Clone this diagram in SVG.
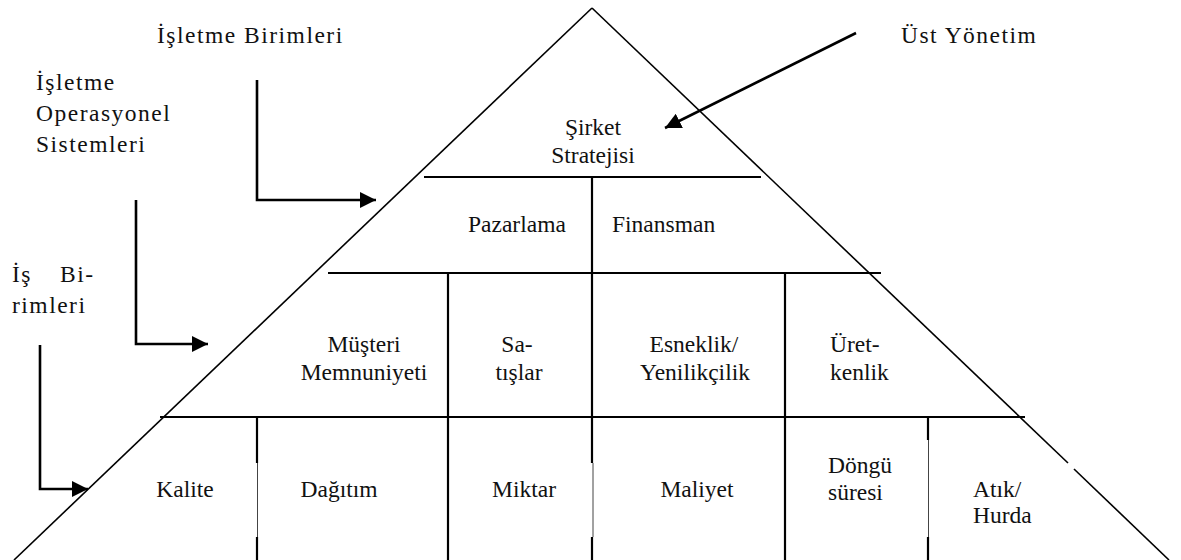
<svg xmlns="http://www.w3.org/2000/svg" width="1181" height="560" viewBox="0 0 1181 560" font-family="'Liberation Serif', 'DejaVu Serif', serif">
  <style>
    text { font-family: 'Liberation Serif', 'DejaVu Serif', serif; font-size: 23.5px; fill: #111; }
    .mid { text-anchor: middle; }
    .wide { letter-spacing: 1.5px; }
    .edge { stroke: #000; stroke-width: 1.6; fill: none; }
    .rule { stroke: #000; stroke-width: 2.2; fill: none; }
    .thin { stroke: #444; stroke-width: 1; fill: none; }
    .link { stroke: #000; stroke-width: 2.6; fill: none; }
  </style>
  <defs>
    <marker id="head" markerUnits="userSpaceOnUse" markerWidth="18" markerHeight="16" refX="16" refY="8" orient="auto">
      <path d="M0,0 L16,8 L0,16 Z" fill="#000"/>
    </marker>
  </defs>
  <rect width="1181" height="560" fill="#fff"/>

  <!-- pyramid outline (right edge has a small break) -->
  <g id="pyramid">
    <line class="edge" x1="592" y1="8" x2="14" y2="560"/>
    <line class="edge" x1="592" y1="8" x2="1068" y2="463"/>
    <line class="edge" x1="1074" y1="469" x2="1169" y2="560"/>
  </g>

  <!-- tier dividers -->
  <g id="tiers">
    <line class="rule" x1="424" y1="177" x2="761" y2="177"/>
    <line class="rule" x1="328" y1="273" x2="881" y2="273"/>
    <line class="rule" x1="160" y1="417" x2="1025" y2="417"/>
    <!-- tier 2 -->
    <line class="rule" x1="592" y1="177" x2="592" y2="273"/>
    <!-- tier 3 -->
    <line class="rule" x1="448" y1="273" x2="448" y2="417"/>
    <line class="rule" x1="592" y1="273" x2="592" y2="417"/>
    <line class="rule" x1="785" y1="273" x2="785" y2="417"/>
    <!-- tier 4 -->
    <path class="rule" d="M257,417 V463 M257,537 V560"/>
    <line class="thin" x1="257.5" y1="463" x2="257.5" y2="537"/>
    <line class="rule" x1="448" y1="417" x2="448" y2="560"/>
    <path class="rule" d="M592,417 V463 M592,537 V560"/>
    <line class="thin" x1="593" y1="463" x2="593" y2="537"/>
    <line class="rule" x1="785" y1="417" x2="785" y2="560"/>
    <path class="rule" d="M928,417 V440 M928,537 V560"/>
    <line class="thin" x1="928.5" y1="440" x2="928.5" y2="537"/>
  </g>

  <!-- pointers from the side labels -->
  <g id="connectors">
    <polyline class="link" points="257,80 257,200 376,200" marker-end="url(#head)"/>
    <polyline class="link" points="136,200 136,344 208,344" marker-end="url(#head)"/>
    <polyline class="link" points="40,345 40,489 88,489" marker-end="url(#head)"/>
    <line class="link" x1="856" y1="33" x2="665" y2="128" marker-end="url(#head)"/>
  </g>

  <g id="label-isletme-birimleri"><text class="wide" x="157" y="43">İşletme Birimleri</text></g>
  <g id="label-operasyonel">
    <text class="wide" x="36" y="90">İşletme</text>
    <text class="wide" x="36" y="121">Operasyonel</text>
    <text class="wide" x="36" y="152">Sistemleri</text>
  </g>
  <g id="label-is-birimleri">
    <text class="wide" x="12" y="282">İş</text>
    <text class="wide" x="60" y="282">Bi-</text>
    <text class="wide" x="12" y="313">rimleri</text>
  </g>
  <g id="label-ust-yonetim"><text class="wide" x="901" y="43">Üst Yönetim</text></g>

  <g id="sirket-stratejisi">
    <text class="mid" x="593" y="135">Şirket</text>
    <text class="mid" x="593" y="163">Stratejisi</text>
  </g>
  <g id="pazarlama"><text x="468" y="232">Pazarlama</text></g>
  <g id="finansman"><text x="612" y="232">Finansman</text></g>

  <g id="musteri-memnuniyeti">
    <text class="mid" x="364" y="352">Müşteri</text>
    <text class="mid" x="364" y="380">Memnuniyeti</text>
  </g>
  <g id="satislar">
    <text class="mid" x="517" y="352">Sa-</text>
    <text class="mid" x="519" y="380">tışlar</text>
  </g>
  <g id="esneklik">
    <text class="mid" x="694" y="352">Esneklik/</text>
    <text class="mid" x="695" y="380">Yenilikçilik</text>
  </g>
  <g id="uretkenlik">
    <text x="830" y="352">Üret-</text>
    <text x="830" y="380">kenlik</text>
  </g>

  <g id="kalite"><text class="mid" x="185" y="497">Kalite</text></g>
  <g id="dagitim"><text class="mid" x="339" y="497">Dağıtım</text></g>
  <g id="miktar"><text class="mid" x="524" y="497">Miktar</text></g>
  <g id="maliyet"><text class="mid" x="697" y="497">Maliyet</text></g>
  <g id="dongu-suresi">
    <text x="828" y="473">Döngü</text>
    <text x="828" y="500">süresi</text>
  </g>
  <g id="atik-hurda">
    <text x="973" y="497">Atık/</text>
    <text x="973" y="523">Hurda</text>
  </g>
</svg>
